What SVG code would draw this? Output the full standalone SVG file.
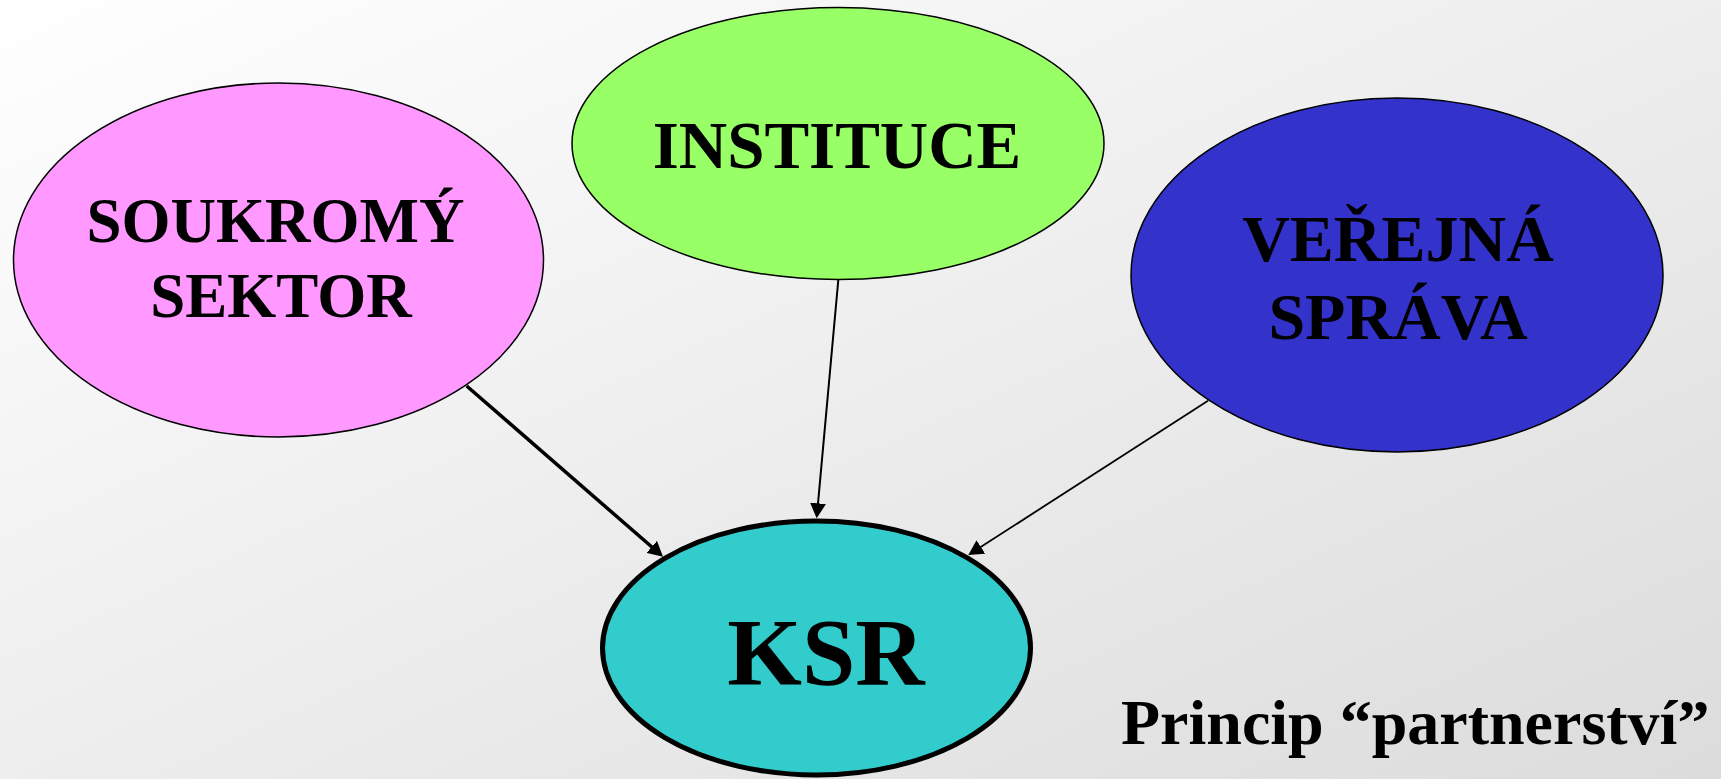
<svg xmlns="http://www.w3.org/2000/svg" width="1721" height="779" viewBox="0 0 1721 779">
<defs>
<linearGradient id="bg" x1="0" y1="0" x2="1" y2="1">
<stop offset="0" stop-color="#ffffff"/>
<stop offset="1" stop-color="#dcdcdc"/>
</linearGradient>
<marker id="arr" markerUnits="userSpaceOnUse" markerWidth="16" markerHeight="16" refX="9" refY="8" orient="auto" viewBox="0 0 16 16">
<path d="M0,0 L15,8 L0,16 z" fill="#000"/>
</marker>
<style>
.lbl{font-family:"Liberation Serif","Times New Roman",serif;font-weight:bold;fill:#000;text-anchor:middle}
.node{stroke:#000;stroke-width:1.5}
.conn{stroke:#000;fill:none;marker-end:url(#arr)}
</style>
</defs>
<rect x="0" y="0" width="1721" height="779" fill="url(#bg)"/>
<g id="connectors">
<line class="conn" x1="466.7" y1="386" x2="658.5" y2="552.8" stroke-width="3.5"/>
<line class="conn" x1="838.3" y1="280" x2="817.2" y2="512.3" stroke-width="2"/>
<line class="conn" x1="1208" y1="400.7" x2="973.3" y2="551.8" stroke-width="1.8"/>
</g>
<g id="soukromy">
<ellipse class="node" cx="278.5" cy="260" rx="265" ry="177" fill="#ff99ff"/>
<text class="lbl" x="275.5" y="242" font-size="63">SOUKROMÝ</text>
<text class="lbl" x="281" y="317" font-size="63">SEKTOR</text>
</g>
<g id="instituce">
<ellipse class="node" cx="838" cy="143.5" rx="266" ry="136" fill="#99ff66"/>
<text class="lbl" x="837" y="168" font-size="67">INSTITUCE</text>
</g>
<g id="verejna">
<ellipse class="node" cx="1397" cy="275" rx="266" ry="177" fill="#3333cc"/>
<text class="lbl" x="1398" y="261" font-size="66">VEŘEJNÁ</text>
<text class="lbl" x="1398" y="339" font-size="66">SPRÁVA</text>
</g>
<g id="ksr">
<ellipse cx="816.5" cy="648" rx="214" ry="127" fill="#33cccc" stroke="#000" stroke-width="5"/>
<text class="lbl" x="826" y="685" font-size="96">KSR</text>
</g>
<text x="1121" y="744" font-family="'Liberation Serif','Times New Roman',serif" font-weight="bold" font-size="64" fill="#000">Princip “partnerství”</text>
</svg>
